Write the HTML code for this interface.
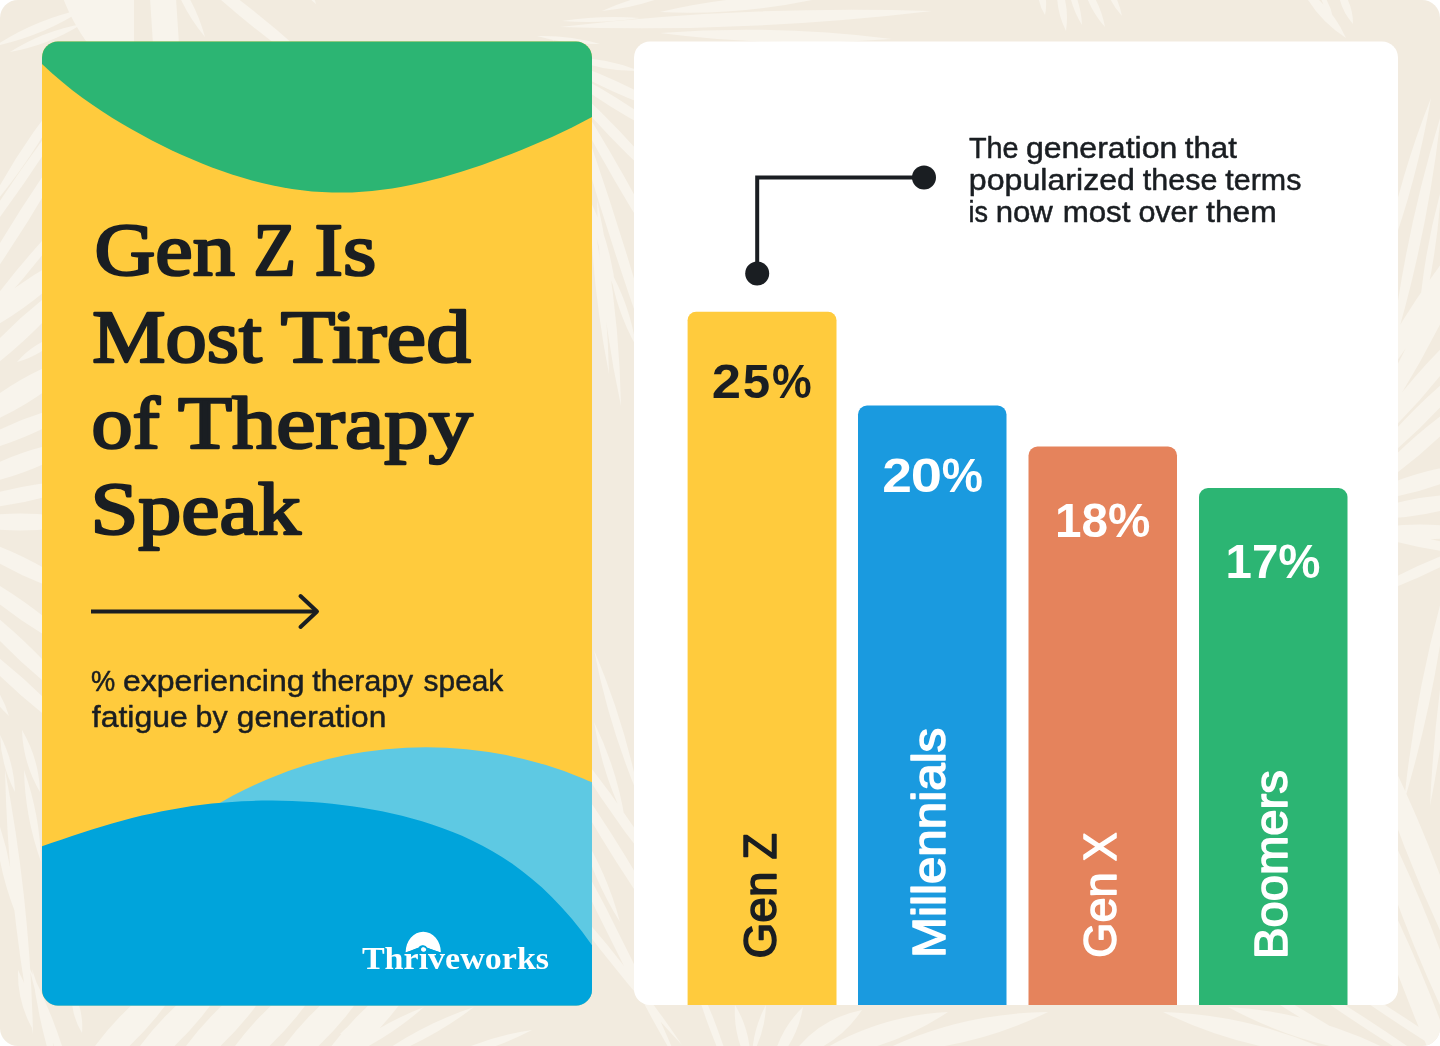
<!DOCTYPE html>
<html lang="en">
<head>
<meta charset="utf-8">
<title>Gen Z Is Most Tired of Therapy Speak</title>
<style>
  html, body { margin: 0; padding: 0; background: #ffffff; }
  body { width: 1440px; height: 1046px; overflow: hidden; }
  svg { display: block; }
  .serif  { font-family: "Liberation Serif", serif; font-weight: 400; font-size: 75px; stroke: #1a1e22; stroke-width: 2.5px; stroke-linejoin: round; }
  .serifb { font-family: "Liberation Serif", serif; font-weight: 700; font-size: 31.5px; }
  .sans   { font-family: "Liberation Sans", sans-serif; font-weight: 400; font-size: 29.5px; stroke: #1a1e22; stroke-width: 0.5px; stroke-linejoin: round; }
  .bold   { font-family: "Liberation Sans", sans-serif; font-weight: 700; font-size: 48.5px; }
  .lab    { font-family: "Liberation Sans", sans-serif; font-weight: 400; font-size: 46px; stroke-width: 1.5px; stroke-linejoin: round; }
  .ink    { fill: #1a1e22; }
  .white  { fill: #ffffff; }
  .sink   { stroke: #1a1e22; }
  .swhite { stroke: #ffffff; }
</style>
</head>
<body>
<svg width="1440" height="1046" viewBox="0 0 1440 1046" role="img" aria-label="Gen Z Is Most Tired of Therapy Speak">
  <defs>
    <clipPath id="canvasClip"><rect x="0" y="0" width="1440" height="1046" rx="18" ry="18"/></clipPath>
    <clipPath id="leftClip"><rect x="42" y="41.5" width="550" height="964" rx="16" ry="16"/></clipPath>
    <clipPath id="rightClip"><rect x="634" y="41.5" width="764" height="963.5" rx="16" ry="16"/></clipPath>
  </defs>

  <!-- page background -->
  <g clip-path="url(#canvasClip)" id="bg">
    <rect x="0" y="0" width="1440" height="1046" fill="#f2ebdf"/>
    <g id="leaves" fill="#f8f4ec" stroke="none">
      <path d="M63 -2L134 -2L134 44L88 44Q72 22 63 -2ZM150 -2L176 -2L179 44L153 44Z"/>
      <path d="M-5 46Q43 36 84 9Q36 19 -5 46ZM10 52Q49 45 82 24Q43 31 10 52ZM170 -30Q180 7 205 37Q195 -0 170 -30ZM168 -50Q248 31 344 92Q264 11 168 -50ZM300 -20Q304 -5 316 4Q312 -11 300 -20ZM640 18Q601 15 562 21Q601 24 640 18ZM600 44Q569 35 537 36Q568 45 600 44ZM680 -10Q639 -6 602 11Q643 7 680 -10ZM830 -4Q744 -8 660 12Q746 16 830 -4ZM560 27Q747 33 932 11Q745 5 560 27ZM660 33Q776 48 892 39Q776 24 660 33ZM1039 -20Q1035 -1 1045 15Q1049 -4 1039 -20ZM1058 -20Q1054 7 1066 31Q1070 4 1058 -20ZM1068 -20Q1069 4 1082 25Q1081 1 1068 -20ZM1082 -20Q1087 7 1105 27Q1100 0 1082 -20ZM1104 -20Q1108 1 1122 16Q1118 -5 1104 -20ZM1300 -15Q1315 18 1346 38Q1331 5 1300 -15ZM1338 -15Q1338 7 1353 24Q1353 2 1338 -15ZM1318 -12Q1321 5 1333 18Q1330 1 1318 -12ZM-16 216Q37 155 72 83Q19 144 -16 216ZM-49 280Q29 185 90 79Q12 174 -49 280ZM-49 332Q31 228 90 111Q10 215 -49 332ZM-34 339Q32 276 82 200Q16 263 -34 339ZM-49 348Q33 314 90 246Q8 280 -49 348ZM-49 396Q33 345 90 266Q8 317 -49 396ZM60 335Q34 342 17 362Q43 355 60 335ZM-49 436Q33 413 90 351Q8 374 -49 436ZM-49 458Q27 445 90 401Q14 414 -49 458ZM-49 489Q27 481 90 438Q14 446 -49 489ZM-49 509Q24 510 90 481Q17 480 -49 509ZM-49 522Q20 539 90 522Q20 505 -49 522ZM-49 531Q13 580 90 599Q28 550 -49 531ZM-49 560Q11 623 90 659Q30 596 -49 560ZM-49 583Q9 662 90 716Q32 637 -49 583ZM-49 623Q11 696 90 748Q30 675 -49 623ZM-20 670Q-12 697 9 716Q1 689 -20 670ZM0 735Q1 765 15 792Q14 762 0 735ZM22 730Q23 763 40 792Q39 759 22 730ZM5 770Q8 903 33 1034Q30 901 5 770ZM24 770Q25 817 41 862Q40 815 24 770ZM-6 810Q-4 863 15 912Q13 859 -6 810ZM29 967Q44 1031 74 1089Q59 1025 29 967ZM570 58Q604 72 640 71Q606 57 570 58ZM546 55Q610 96 682 117Q618 76 546 55ZM546 60Q608 111 682 145Q620 94 546 60ZM546 62Q606 140 682 204Q622 126 546 62ZM546 50Q605 174 682 288Q623 164 546 50ZM552 37Q601 227 671 411Q622 221 552 37ZM590 200Q595 248 616 292Q611 244 590 200ZM590 200Q592 288 609 374Q607 286 590 200ZM597 200Q599 304 621 406Q619 302 597 200ZM610 270Q616 310 636 346Q630 306 610 270ZM640 800Q625 723 594 650Q609 727 640 800ZM625 820Q617 769 594 722Q602 773 625 820ZM557 726Q608 817 676 896Q625 805 557 726ZM546 739Q605 854 682 957Q623 842 546 739ZM580 830Q593 879 620 922Q607 873 580 830ZM546 799Q605 940 682 1071Q623 930 546 799ZM546 875Q607 965 682 1045Q621 955 546 875ZM1380 280Q1415 192 1431 98Q1396 186 1380 280ZM1390 360Q1427 240 1441 115Q1404 235 1390 360ZM1418 330Q1437 261 1441 190Q1422 259 1418 330ZM1352 416Q1436 321 1488 206Q1404 301 1352 416ZM1352 468Q1437 351 1488 216Q1403 333 1352 468ZM1352 465Q1434 398 1488 306Q1406 373 1352 465ZM1352 484Q1432 428 1488 348Q1408 404 1352 484ZM1352 503Q1431 456 1488 384Q1409 431 1352 503ZM1352 502Q1425 498 1488 462Q1415 466 1352 502ZM1352 518Q1423 523 1488 495Q1417 490 1352 518ZM1352 532Q1420 547 1488 532Q1420 517 1352 532ZM1352 528Q1418 552 1488 556Q1422 532 1352 528ZM1488 540Q1416 561 1352 602Q1424 581 1488 540ZM1450 570Q1416 684 1404 802Q1438 688 1450 570ZM1456 590Q1435 697 1430 806Q1451 699 1456 590ZM1352 685Q1399 864 1488 1025Q1441 846 1352 685ZM1352 760Q1399 939 1488 1100Q1441 921 1352 760ZM1352 830Q1399 1009 1488 1170Q1441 991 1352 830ZM18 970Q17 1001 32 1028Q33 997 18 970ZM32 969Q39 1030 60 1088Q53 1027 32 969ZM72 990Q70 1013 82 1033Q84 1010 72 990ZM65 1094Q150 1045 195 958Q110 1007 65 1094ZM110 1094Q195 1045 240 958Q155 1007 110 1094ZM156 1094Q241 1045 286 958Q201 1007 156 1094ZM205 1094Q290 1045 335 958Q250 1007 205 1094ZM254 1094Q339 1045 384 958Q299 1007 254 1094ZM300 1094Q383 1043 430 958Q347 1009 300 1094ZM340 1034Q367 1026 386 1006Q359 1014 340 1034ZM330 1064Q382 1044 424 1007Q372 1027 330 1064ZM370 1062Q427 1043 474 1007Q417 1026 370 1062ZM440 1060Q488 1053 532 1030Q484 1037 440 1060ZM687 958Q706 1029 738 1094Q719 1023 687 958ZM750 1066Q752 1033 735 1005Q733 1038 750 1066ZM752 1056Q765 1032 766 1005Q753 1029 752 1056ZM772 1066Q797 1042 803 1007Q778 1031 772 1066ZM790 1058Q836 1049 862 1010Q816 1019 790 1058ZM810 1058Q885 1054 948 1012Q873 1016 810 1058ZM880 1052Q969 1051 1048 1012Q959 1013 880 1052ZM1340 1056Q1256 1015 1163 1012Q1247 1053 1340 1056ZM1400 1056Q1319 1012 1228 1007Q1309 1051 1400 1056ZM1216 962Q1319 1034 1431 1092Q1328 1020 1216 962ZM1246 945Q1360 1030 1484 1101Q1370 1016 1246 945ZM1286 945Q1400 1030 1524 1101Q1410 1016 1286 945Z"/>
    </g>
  </g>

  <!-- left card -->
  <g clip-path="url(#leftClip)" id="left-card">
    <rect x="42" y="41" width="550" height="965" fill="#ffcb3d"/>
    <path fill="#2cb573" d="M42 41L42 63.9 52 73.2 62 81.8 72 89.9 82 97.4 92 104.5 102 111.3 112 117.7 122 123.8 132 129.6 142 135.1 152 140.4 162 145.5 172 150.4 182 155.0 192 159.3 202 163.5 212 167.4 222 171.0 232 174.4 242 177.6 252 180.4 262 183.0 272 185.3 282 187.3 292 188.9 302 190.3 312 191.4 322 192.1 332 192.5 342 192.6 352 192.4 362 191.8 372 191.0 382 189.8 392 188.4 402 186.7 412 184.8 422 182.6 432 180.1 442 177.5 452 174.6 462 171.5 472 168.3 482 164.9 492 161.3 502 157.6 512 153.7 522 149.7 532 145.6 542 141.3 552 136.9 562 132.2 572 127.4 582 122.3 592 117.0L592 41Z"/>
    <circle cx="426.2" cy="1157" r="409.8" fill="#5ec9e3"/>
    <path fill="#00a4db" d="M42 1005 L42 846.3 52 842.8 62 839.4 72 836.0 82 832.7 92 829.5 102 826.4 112 823.5 122 820.7 132 818.1 142 815.6 152 813.4 162 811.3 172 809.4 182 807.7 192 806.1 202 804.8 212 803.6 222 802.7 232 801.9 242 801.3 252 800.9 262 800.6 272 800.6 282 800.7 292 801.0 302 801.4 312 802.0 322 802.8 332 803.8 342 804.9 352 806.2 362 807.7 372 809.4 382 811.3 392 813.5 402 815.8 412 818.4 422 821.2 432 824.4 442 827.9 452 831.7 462 835.8 472 840.4 482 845.4 492 851.0 502 857.0 512 863.6 522 870.9 532 878.9 542 887.6 552 897.2 562 907.7 572 919.1 582 931.6 592 945.3 L592 1006 L42 1006 Z"/>
  </g>

  <!-- headline -->
  <g class="serif ink" id="headline">
    <text y="275.30"><tspan x="94.50" textLength="140.41" lengthAdjust="spacingAndGlyphs">Gen</tspan> <tspan x="253.55" textLength="42.45" lengthAdjust="spacingAndGlyphs">Z</tspan> <tspan x="314.55" textLength="61.77" lengthAdjust="spacingAndGlyphs">Is</tspan></text>
    <text y="361.60"><tspan x="92.30" textLength="169.49" lengthAdjust="spacingAndGlyphs">Most</tspan> <tspan x="280.80" textLength="189.94" lengthAdjust="spacingAndGlyphs">Tired</tspan></text>
    <text y="447.80"><tspan x="91.55" textLength="68.40" lengthAdjust="spacingAndGlyphs">of</tspan> <tspan x="178.00" textLength="294.81" lengthAdjust="spacingAndGlyphs">Therapy</tspan></text>
    <text y="534.30"><tspan x="90.45" textLength="210.41" lengthAdjust="spacingAndGlyphs">Speak</tspan></text>
  </g>

  <!-- arrow -->
  <g id="arrow" fill="none" stroke="#1a1e22" stroke-width="4" stroke-linecap="butt" stroke-linejoin="miter">
    <path d="M91 611.5 H317"/>
    <path d="M300.5 596 L317 611.5 L300.5 627" stroke-linecap="round" stroke-linejoin="round"/>
  </g>

  <!-- subtitle -->
  <g class="sans ink" id="subtitle">
    <text y="691.15"><tspan x="91.09" textLength="24.21" lengthAdjust="spacingAndGlyphs">%</tspan> <tspan x="123.00" textLength="181.56" lengthAdjust="spacingAndGlyphs">experiencing</tspan> <tspan x="312.35" textLength="100.85" lengthAdjust="spacingAndGlyphs">therapy</tspan> <tspan x="423.60" textLength="79.73" lengthAdjust="spacingAndGlyphs">speak</tspan></text>
    <text y="727.05"><tspan x="91.75" textLength="96.09" lengthAdjust="spacingAndGlyphs">fatigue</tspan> <tspan x="195.55" textLength="32.11" lengthAdjust="spacingAndGlyphs">by</tspan> <tspan x="236.80" textLength="149.52" lengthAdjust="spacingAndGlyphs">generation</tspan></text>
  </g>

  <!-- logo -->
  <g id="logo">
    <path d="M405.6 952.6 A17.65 20.9 0 0 1 440.9 952.6 C436 951 431 949.2 426.8 947.6 C425.4 944.6 420.2 944.6 418.8 947.6 C415 949 411 950.8 405.6 952.6 Z" fill="#ffffff"/>
    <text class="serifb white" x="361.90" y="968.90" textLength="187.20" lengthAdjust="spacingAndGlyphs">Thriveworks</text>
    <path d="M404 953.7 C411 951.5 415.4 949.9 418.9 948.4 C420.4 945.5 425.2 945.5 426.7 948.4 C430.4 949.9 436 951.7 442.6 953.7" fill="none" stroke="#00a4db" stroke-width="1.3"/>
  </g>

  <!-- chart card -->
  <g clip-path="url(#rightClip)" id="chart-card">
    <rect x="634" y="41" width="764" height="965" fill="#ffffff"/>
    <rect x="687.6" y="311.8" width="148.9" height="720" rx="8.5" fill="#ffcb3d"/>
    <rect x="858" y="405.5" width="148.5" height="620" rx="9" fill="#1a9adf"/>
    <rect x="1028.5" y="446.5" width="148.5" height="580" rx="9" fill="#e5835c"/>
    <rect x="1199" y="488" width="148.5" height="540" rx="9" fill="#2cb573"/>
  </g>

  <!-- callout -->
  <g id="callout">
    <path d="M757.2 273.5 V177.5 H924" fill="none" stroke="#1a1e22" stroke-width="4" stroke-linejoin="miter"/>
    <circle cx="924" cy="177.5" r="12" fill="#1a1e22"/>
    <circle cx="757.2" cy="273.5" r="12" fill="#1a1e22"/>
    <g class="sans ink">
      <text y="157.95"><tspan x="968.90" textLength="49.70" lengthAdjust="spacingAndGlyphs">The</tspan> <tspan x="1025.90" textLength="151.45" lengthAdjust="spacingAndGlyphs">generation</tspan> <tspan x="1184.75" textLength="52.07" lengthAdjust="spacingAndGlyphs">that</tspan></text>
      <text y="190.05"><tspan x="968.85" textLength="166.09" lengthAdjust="spacingAndGlyphs">popularized</tspan> <tspan x="1142.85" textLength="74.51" lengthAdjust="spacingAndGlyphs">these</tspan> <tspan x="1225.35" textLength="76.03" lengthAdjust="spacingAndGlyphs">terms</tspan></text>
      <text y="222.25"><tspan x="968.57" textLength="19.52" lengthAdjust="spacingAndGlyphs">is</tspan> <tspan x="995.75" textLength="57.09" lengthAdjust="spacingAndGlyphs">now</tspan> <tspan x="1062.65" textLength="67.83" lengthAdjust="spacingAndGlyphs">most</tspan> <tspan x="1138.40" textLength="59.33" lengthAdjust="spacingAndGlyphs">over</tspan> <tspan x="1206.05" textLength="70.78" lengthAdjust="spacingAndGlyphs">them</tspan></text>
    </g>
  </g>

  <!-- values -->
  <g class="bold" id="values">
    <text class="ink" y="397.50"><tspan x="711.75" textLength="29.24" lengthAdjust="spacingAndGlyphs">2</tspan><tspan x="742.70" textLength="27.37" lengthAdjust="spacingAndGlyphs">5</tspan><tspan x="772.10" textLength="39.67" lengthAdjust="spacingAndGlyphs">%</tspan></text>
    <text class="white" y="492.00"><tspan x="882.25" textLength="29.65" lengthAdjust="spacingAndGlyphs">2</tspan><tspan x="910.65" textLength="31.26" lengthAdjust="spacingAndGlyphs">0</tspan><tspan x="941.85" textLength="41.21" lengthAdjust="spacingAndGlyphs">%</tspan></text>
    <text class="white" x="1055.10" y="536.50" textLength="95.40" lengthAdjust="spacingAndGlyphs">18%</text>
    <text class="white" x="1225.50" y="578.30" textLength="95.03" lengthAdjust="spacingAndGlyphs">17%</text>
  </g>

  <!-- category labels -->
  <g class="lab" id="labels">
    <text class="ink sink" transform="translate(775.60 1000) rotate(-90)"><tspan x="41.50" textLength="87.00" lengthAdjust="spacingAndGlyphs">Gen</tspan> <tspan x="140.55" textLength="26.42" lengthAdjust="spacingAndGlyphs">Z</tspan></text>
    <text class="white swhite" transform="translate(944.70 1000) rotate(-90)"><tspan x="41.95" textLength="230.34" lengthAdjust="spacingAndGlyphs">Millennials</tspan></text>
    <text class="white swhite" transform="translate(1116.30 1000) rotate(-90)"><tspan x="42.30" textLength="85.44" lengthAdjust="spacingAndGlyphs">Gen</tspan> <tspan x="138.85" textLength="28.86" lengthAdjust="spacingAndGlyphs">X</tspan></text>
    <text class="white swhite" transform="translate(1286.60 1000) rotate(-90)"><tspan x="40.90" textLength="189.07" lengthAdjust="spacingAndGlyphs">Boomers</tspan></text>
  </g>
</svg>
</body>
</html>
